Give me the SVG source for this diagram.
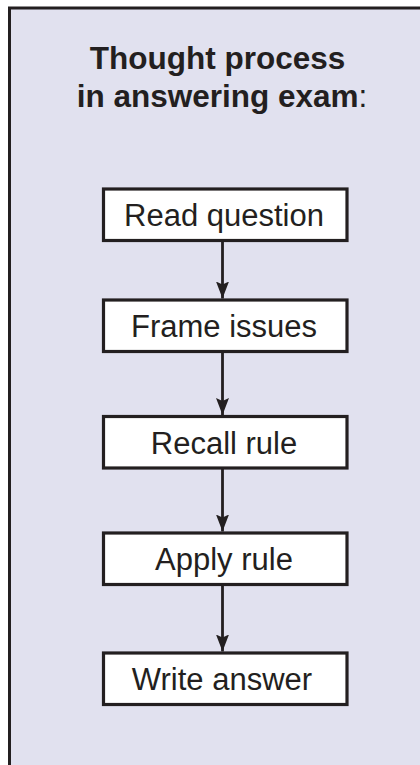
<svg xmlns="http://www.w3.org/2000/svg" width="420" height="765" viewBox="0 0 420 765">
  <style>
    .frame { fill: #e1e1ef; stroke: #231f20; stroke-width: 3; }
    .box { fill: #ffffff; stroke: #231f20; stroke-width: 3.2; }
    .lbl { font-family: "Liberation Sans", Arial, sans-serif; font-size: 31px; fill: #231f20; text-anchor: middle; }
    .title { font-family: "Liberation Sans", Arial, sans-serif; font-size: 31.5px; font-weight: bold; fill: #231f20; text-anchor: middle; }
    .conn { stroke: #231f20; stroke-width: 2.8; fill: none; marker-end: url(#arrow); }
  </style>
  <defs>
    <marker id="arrow" markerUnits="userSpaceOnUse" markerWidth="17" markerHeight="13" refX="17" refY="6.5" orient="auto" viewBox="0 0 17 13">
      <path d="M0,0 L17,6.5 L0,13 L3,6.5 Z" fill="#231f20"/>
    </marker>
  </defs>
  <rect width="420" height="765" fill="#ffffff"/>
  <rect class="frame" x="9.5" y="8" width="430" height="780"/>
  <g id="title">
    <text class="title" x="217.5" y="68.5">Thought process</text>
    <text class="title" x="222" y="106.5">in answering exam<tspan font-weight="normal">:</tspan></text>
  </g>
  <g id="connectors">
    <line class="conn" x1="222.5" y1="241" x2="222.5" y2="298.5"/>
    <line class="conn" x1="222.5" y1="351.5" x2="222.5" y2="415"/>
    <line class="conn" x1="222.5" y1="468" x2="222.5" y2="531.5"/>
    <line class="conn" x1="222.5" y1="584.5" x2="222.5" y2="651.5"/>
  </g>
  <g id="read">
    <rect class="box" x="103.5" y="189" width="243.5" height="51.5"/>
    <text class="lbl" x="224" y="226">Read question</text>
  </g>
  <g id="frame-issues">
    <rect class="box" x="103.5" y="300" width="243.5" height="51.5"/>
    <text class="lbl" x="224" y="337">Frame issues</text>
  </g>
  <g id="recall">
    <rect class="box" x="103.5" y="416.5" width="243.5" height="51.5"/>
    <text class="lbl" x="224" y="453.5">Recall rule</text>
  </g>
  <g id="apply">
    <rect class="box" x="103.5" y="533" width="243.5" height="51.5"/>
    <text class="lbl" x="224" y="570">Apply rule</text>
  </g>
  <g id="write">
    <rect class="box" x="103.5" y="653" width="243.5" height="51.5"/>
    <text class="lbl" x="222" y="690">Write answer</text>
  </g>
</svg>
